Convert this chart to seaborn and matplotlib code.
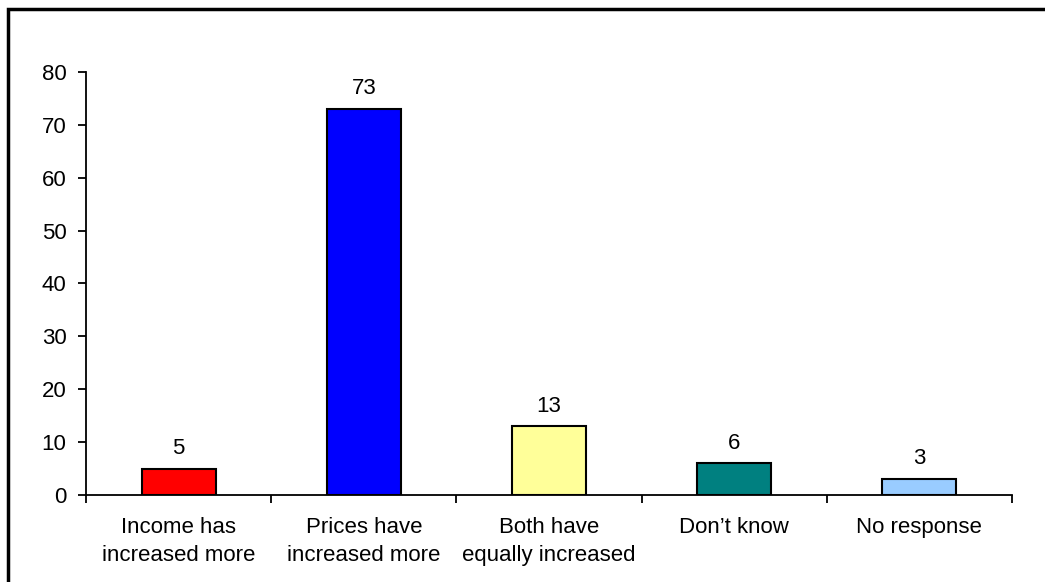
import numpy as np
import pandas as pd
import matplotlib.pyplot as plt
import seaborn as sns
from matplotlib.patches import Rectangle

categories = ["Income has\nincreased more", "Prices have\nincreased more",
              "Both have\nequally increased", "Don\u2019t know", "No response"]
values = [5, 73, 13, 6, 3]
colors = ["#FF0000", "#0000FF", "#FFFF99", "#008080", "#99CCFF"]

df = pd.DataFrame({"answer": categories, "share": values})

sns.set_theme(style="white")
plt.rcParams['font.family'] = ['Liberation Sans', 'DejaVu Sans']

fig = plt.figure(figsize=(10.45, 5.82), dpi=100)
ax = fig.add_axes([0.0823, 0.1495, 0.8861, 0.7268])

sns.barplot(data=df, x="answer", y="share", hue="answer", palette=colors,
            saturation=1, width=0.4, edgecolor="black", linewidth=1.5,
            legend=False, ax=ax)

for container in ax.containers:
    ax.bar_label(container, fmt='%d', padding=7, fontsize=16, color='black')

ax.set_xlim(-0.5, len(categories) - 0.5)
ax.set_ylim(0, 80)
ax.set_yticks(range(0, 81, 10))
ax.set_xlabel("")
ax.set_ylabel("")

# separator ticks between categories
ax.set_xticks(np.arange(-0.5, len(categories), 1.0), minor=True)
ax.tick_params(axis='x', which='major', length=0, pad=16, labelsize=16, colors='black')
ax.tick_params(axis='x', which='minor', length=6, width=1.3, direction='out', color='black', bottom=True)
ax.tick_params(axis='y', which='major', length=6, width=1.3, direction='out', pad=8,
               labelsize=16, colors='black', left=True)
for lbl in ax.get_xticklabels():
    lbl.set_linespacing(1.4)

for side in ['top', 'right']:
    ax.spines[side].set_visible(False)
for side in ['left', 'bottom']:
    ax.spines[side].set_color('black')
    ax.spines[side].set_linewidth(1.3)

# outer frame (clipped on right and bottom like the original)
fig.patches.append(Rectangle((7.5 / 1045, -0.1), 1.2, 1.1 - 8.5 / 582,
                             transform=fig.transFigure, fill=False,
                             edgecolor='black', linewidth=2.5))

fig.savefig("out.png", dpi=100)
